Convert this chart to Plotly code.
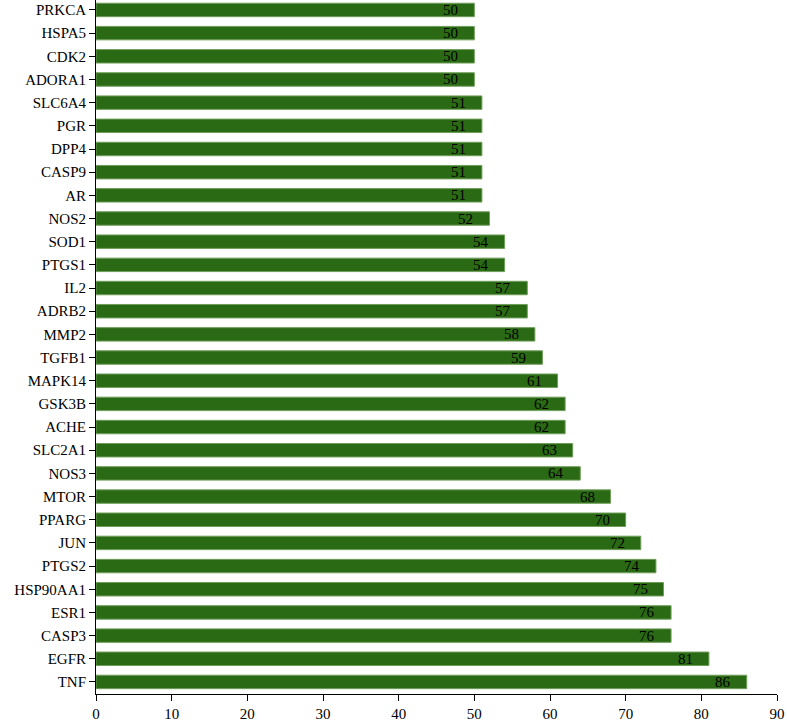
import plotly.graph_objects as go

genes = ["TNF", "EGFR", "CASP3", "ESR1", "HSP90AA1", "PTGS2", "JUN", "PPARG", "MTOR", "NOS3",
         "SLC2A1", "ACHE", "GSK3B", "MAPK14", "TGFB1", "MMP2", "ADRB2", "IL2", "PTGS1", "SOD1",
         "NOS2", "AR", "CASP9", "DPP4", "PGR", "SLC6A4", "ADORA1", "CDK2", "HSPA5", "PRKCA"]
degree = [86, 81, 76, 76, 75, 74, 72, 70, 68, 64,
          63, 62, 62, 61, 59, 58, 57, 57, 54, 54,
          52, 51, 51, 51, 51, 51, 50, 50, 50, 50]

font = "Liberation Serif, DejaVu Serif, serif"

fig = go.Figure(go.Bar(
    x=degree, y=genes, orientation="h",
    marker=dict(color="#2b6a14", line=dict(color="#6f9e5a", width=1)),
    width=0.58,
    hoverinfo="x+y",
))

# value labels sit a little way in from the bar end
for g, v in zip(genes, degree):
    fig.add_annotation(x=v, y=g, text=str(v), showarrow=False,
                       xanchor="right", xshift=-14,
                       font=dict(family=font, size=15, color="black"))

fig.update_layout(
    width=787, height=722,
    margin=dict(l=96, r=10, t=0, b=25),
    plot_bgcolor="white", paper_bgcolor="white",
    font=dict(family=font, size=15, color="black"),
    showlegend=False,
)
fig.update_xaxes(range=[0, 90], dtick=10, showgrid=False, zeroline=False,
                 showline=True, linecolor="black", linewidth=1,
                 ticks="outside", ticklen=6, tickcolor="black",
                 tickfont=dict(family=font, size=15))
fig.update_yaxes(range=[-0.52, 29.43], showgrid=False, zeroline=False,
                 showline=True, linecolor="black", linewidth=1,
                 ticks="outside", ticklen=6, tickcolor="black",
                 tickfont=dict(family=font, size=15))

fig.write_html("out.html", config={"displayModeBar": False},
               post_script="document.body.style.margin='0';")
